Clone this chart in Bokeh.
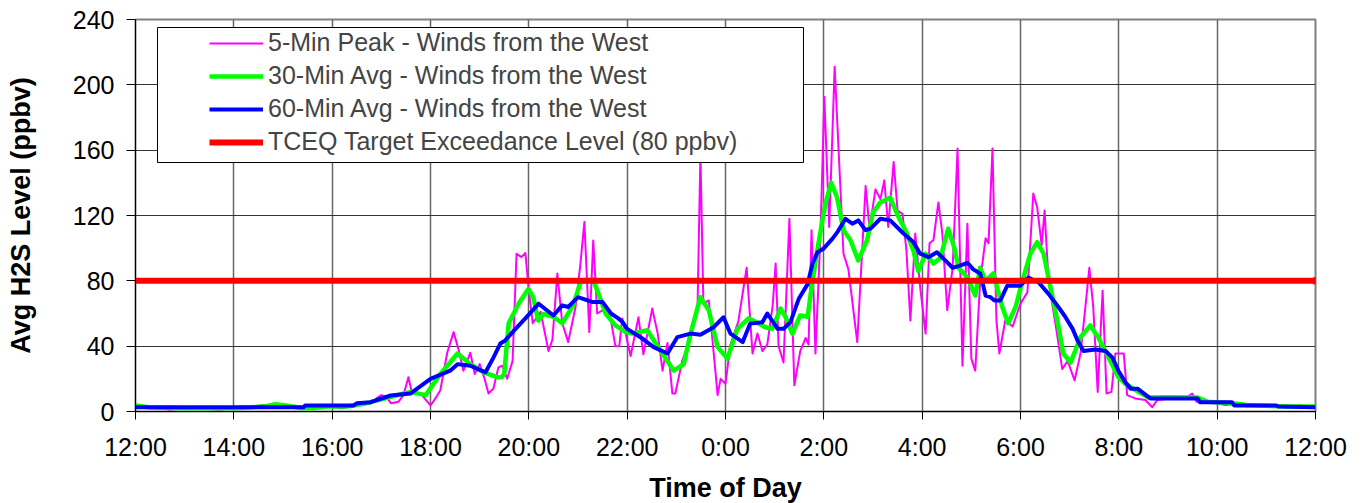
from bokeh.plotting import figure
from bokeh.models import (Range1d, FixedTicker, Legend, LegendItem, BoxAnnotation)
from bokeh.embed import file_html
from bokeh.resources import INLINE

# ---- data (time in hours after 12:00 noon) ----
tick_hours = [0, 2, 4, 6, 8, 10, 12, 14, 16, 18, 20, 22, 24]
tick_labels = ["12:00", "14:00", "16:00", "18:00", "20:00", "22:00", "0:00",
               "2:00", "4:00", "6:00", "8:00", "10:00", "12:00"]
y_ticks = [0, 40, 80, 120, 160, 200, 240]

peak_t = [0.0, 0.15, 0.3, 0.5, 0.7, 0.9, 1.2, 1.5, 1.7, 2.0, 2.3, 2.6, 2.8, 3.0, 3.2, 3.4,
          3.6, 3.9, 4.2, 4.4, 4.6, 4.8, 4.9, 5.0, 5.1, 5.2, 5.35, 5.45, 5.55, 5.62, 5.8, 6.0,
          6.1, 6.2, 6.34, 6.47, 6.57, 6.67, 6.81, 6.9, 7.0, 7.1, 7.18, 7.28, 7.38, 7.46,
          7.56, 7.67, 7.75, 7.85, 7.93, 8.0, 8.08, 8.24, 8.4, 8.48, 8.58, 8.68, 8.8, 8.95,
          9.05, 9.13, 9.23, 9.31, 9.39, 9.5, 9.66, 9.76, 9.84, 9.9, 10.07, 10.23, 10.33,
          10.51, 10.62, 10.72, 10.82, 10.92, 10.98, 11.12, 11.29, 11.43, 11.49, 11.55,
          11.66, 11.84, 11.9, 12.0, 12.1, 12.26, 12.43, 12.55, 12.65, 12.75, 12.85, 12.96,
          13.02, 13.08, 13.18, 13.3, 13.4, 13.52, 13.63, 13.69, 13.75, 13.83, 13.93, 14.01,
          14.11, 14.22, 14.34, 14.4, 14.5, 14.68, 14.85, 14.93, 15.05, 15.15, 15.23, 15.31,
          15.42, 15.5, 15.6, 15.68, 15.76, 15.86, 15.96, 16.07, 16.15, 16.23, 16.33, 16.41,
          16.51, 16.62, 16.72, 16.82, 16.92, 17.0, 17.08, 17.18, 17.29, 17.35, 17.43, 17.51,
          17.57, 17.69, 17.84, 18.0, 18.14, 18.26, 18.34, 18.43, 18.49, 18.57, 18.71, 18.85,
          18.96, 19.1, 19.22, 19.32, 19.4, 19.48, 19.57, 19.67, 19.75, 19.85, 19.93, 20.03,
          20.1, 20.17, 20.33, 20.54, 20.68, 20.78, 21.04, 21.35, 21.49, 21.58, 21.86, 22.17,
          22.47, 22.78, 23.08, 23.39, 23.69, 24.0]
peak_v = [3.5, 3.5, 2.5, 2, 1, 2, 2, 1.5, 1, 2, 2.5, 4, 3, 4, 2.5, 1.5,
          2, 3, 2, 3.5, 4, 5, 8, 10, 9, 5, 6, 10, 21, 12, 11, 3.7,
          8, 13, 36, 48.6, 38, 25, 36, 23, 29, 20, 11, 14, 27, 28,
          20, 31, 96.6, 94.5, 97, 74, 54, 61, 37, 44, 84.5, 54, 42.5, 64,
          90.6, 116, 48.6, 104.7, 60, 62, 57.7, 40, 40, 57, 34, 57.7, 35,
          63, 48, 25, 42, 11, 11, 31, 45, 62, 158, 66,
          68, 10, 20, 17, 41, 55, 88, 35.5, 47.7, 37, 41, 65,
          90.6, 40, 30, 118, 16, 37, 45, 41, 111, 35.5, 107, 192.5,
          113, 211, 135, 96.6, 87, 42.5, 138, 112, 136, 130, 141.5, 113,
          152.7, 123, 121, 98.6, 55.7, 109, 76, 47.7, 103, 105, 128, 109,
          62, 88, 161, 28, 115, 32.4, 25, 80, 106, 103, 161, 56,
          35.5, 55.7, 52, 66, 73, 133.5, 125, 102, 123, 80, 54, 26,
          31, 19, 35.5, 64, 88, 64, 12, 74, 11, 12, 35.5, 35.5,
          35.5, 10, 8, 7, 2.6, 7, 8, 8, 11, 6, 5.7, 4,
          5, 3.7, 4, 2.5, 3.7, 2.6]

avg30_t = [0.0, 0.3, 1.0, 2.0, 2.6, 2.85, 3.1, 3.4, 3.6, 3.9, 4.3, 4.5, 4.78, 5.2, 5.59,
           5.9, 6.2, 6.55, 6.81, 7.08, 7.36, 7.45, 7.5, 7.59, 7.79, 7.99, 8.09, 8.19, 8.3,
           8.5, 8.68, 8.9, 9.05, 9.3, 9.42, 9.56, 9.76, 9.97, 10.1, 10.41, 10.68, 10.95,
           11.15, 11.29, 11.49, 11.66, 11.84, 12.04, 12.24, 12.47, 12.61, 12.81, 12.95,
           13.12, 13.22, 13.36, 13.52, 13.67, 13.77, 13.89, 14.03, 14.15, 14.27, 14.4,
           14.54, 14.7, 14.88, 15.0, 15.15, 15.35, 15.49, 15.69, 15.82, 15.92, 16.07,
           16.23, 16.37, 16.53, 16.65, 16.74, 16.92, 17.08, 17.18, 17.29, 17.45, 17.63,
           17.75, 17.9, 18.04, 18.2, 18.34, 18.47, 18.61, 18.75, 18.87, 19.02, 19.22,
           19.42, 19.58, 19.79, 19.99, 20.13, 20.4, 20.6, 21.0, 21.6, 21.8, 22.3, 22.6,
           23.0, 23.5, 24.0]
avg30_v = [3.7, 2.5, 2, 2, 3, 4.5, 3.5, 2, 2, 3, 3, 4, 5.7, 9, 12,
           10, 23, 35.5, 29, 24, 21, 21, 23, 54, 66, 75, 70, 55.7, 59.7,
           58, 54, 65, 79, 81, 72, 60, 52.7, 48.6, 47.7, 49.7, 37, 25,
           29, 47.7, 70, 62, 39.4, 32.4, 50.6, 57, 55, 51.6, 50.6,
           63, 58, 47.7, 58.8, 58, 80, 103, 127, 140, 131, 111,
           105, 92.5, 105, 122, 128, 131, 121, 109, 98.6, 86, 96.6,
           90.6, 94, 112, 100.6, 88, 82, 71, 88, 80, 84.5, 64,
           54, 64, 80, 96.6, 103.7, 96.6, 76, 55.7, 35.5, 30, 45.5,
           52.7, 45.5, 33, 21, 17, 12, 8.5, 8.8, 8.5, 6, 5, 4,
           3.5, 3, 3]

avg60_t = [0.0, 3.42, 3.45, 4.43, 4.5, 4.78, 5.19, 5.59, 6.0, 6.4, 6.55, 6.81, 7.12, 7.28,
           7.42, 7.52, 7.73, 7.93, 8.2, 8.5, 8.68, 8.8, 9.0, 9.3, 9.5, 9.67, 9.82, 9.9,
           10.0, 10.27, 10.54, 10.82, 11.02, 11.29, 11.49, 11.76, 11.96, 12.1, 12.35,
           12.5, 12.75, 12.85, 13.06, 13.18, 13.32, 13.49, 13.67, 13.77, 13.87, 13.99,
           14.18, 14.28, 14.44, 14.58, 14.7, 14.85, 14.95, 15.15, 15.35, 15.62, 15.82,
           15.96, 16.13, 16.3, 16.47, 16.62, 16.74, 16.92, 17.04, 17.18, 17.29, 17.39,
           17.47, 17.59, 17.73, 18.0, 18.16, 18.37, 18.57, 18.77, 18.91, 19.06, 19.16,
           19.28, 19.52, 19.73, 19.87, 19.99, 20.13, 20.24, 20.38, 20.64, 21.6, 21.65,
           22.3, 22.35, 23.2, 23.25, 24.0]
avg60_v = [2.6, 2.6, 3.7, 3.7, 5, 5.7, 9.8, 11, 20, 25, 29, 28, 24, 33,
           41.6, 43.5, 50.6, 57, 66, 58.8, 65, 64, 70, 67, 67, 60, 57, 55,
           50.6, 45.5, 39.4, 35.5, 45.5, 47.7, 47, 51.6, 57.7, 47.7, 42.5,
           53.8, 54.7, 60, 50.6, 50.6, 54.7, 69, 78, 90.6, 97.5, 99.6,
           106, 110, 118, 115, 117, 111, 112, 118, 117, 109, 103.7,
           96.6, 94.5, 97.5, 92.5, 88, 89, 91, 87, 84.5, 71, 70,
           68, 68, 77, 77, 82, 79, 72, 64, 58, 50.6, 43.5,
           37, 38, 37, 33, 25, 18, 14, 14, 8, 8, 5.7,
           5.7, 3.7, 3.7, 3, 2.6]

target_t = [0.0, 24.0]
target_v = [80, 80]

series_labels = ["5-Min Peak - Winds from the West",
                 "30-Min Avg - Winds from the West",
                 "60-Min Avg - Winds from the West",
                 "TCEQ Target Exceedance Level (80 ppbv)"]

FONT = "Liberation Sans"

p = figure(frame_width=1180, frame_height=392, output_backend="svg", toolbar_location=None,
           x_range=Range1d(0, 24), y_range=Range1d(0, 240),
           min_border_left=135, min_border_top=19, min_border_right=40, min_border_bottom=90)
p.background_fill_color = "white"
p.border_fill_color = "white"
p.outline_line_color = "#808080"
p.outline_line_width = 2

r_peak = p.line(peak_t, peak_v, line_color="#FF00FF", line_width=2, line_join="round")
r_30 = p.line(avg30_t, avg30_v, line_color="#00FF00", line_width=4.5, line_join="round")
r_60 = p.line(avg60_t, avg60_v, line_color="#0000FF", line_width=4, line_join="round")
r_tg = p.line(target_t, target_v, line_color="#FF0000", line_width=6)
p.scatter(target_t[-1:], target_v[-1:], size=7, color="#FF0000")

xa = p.xaxis[0]
xa.ticker = FixedTicker(ticks=tick_hours)
xa.major_label_overrides = {h: s for h, s in zip(tick_hours, tick_labels)}
ya = p.yaxis[0]
ya.ticker = FixedTicker(ticks=y_ticks)
for ax in (xa, ya):
    ax.axis_line_color = "black"
    ax.axis_line_width = 1
    ax.major_tick_line_color = "black"
    ax.major_tick_in = 0
    ax.minor_tick_line_color = None
    ax.major_label_text_font = FONT
    ax.major_label_text_font_size = "25px"
    ax.major_label_text_color = "black"
    ax.axis_label_text_font = FONT
    ax.axis_label_text_font_size = "27px"
    ax.axis_label_text_font_style = "bold"
    ax.axis_label_text_color = "black"
xa.major_tick_out = 8
ya.major_tick_out = 9
xa.major_label_standoff = 13
ya.major_label_standoff = 12
xa.axis_label = "Time of Day"
ya.axis_label = "Avg H2S Level (ppbv)"
xa.axis_label_standoff = 9
ya.axis_label_standoff = 34

p.xgrid.ticker = FixedTicker(ticks=tick_hours)
p.ygrid.ticker = FixedTicker(ticks=y_ticks)
p.xgrid.grid_line_color = "#666666"
p.xgrid.grid_line_width = 1.5
p.ygrid.grid_line_color = "#333333"
p.ygrid.grid_line_width = 1

box = BoxAnnotation(left=22, right=668, bottom=249, top=384,
                    left_units="screen", right_units="screen",
                    bottom_units="screen", top_units="screen",
                    fill_color="white", fill_alpha=1.0,
                    line_color="black", line_width=1, line_alpha=1.0)
p.add_layout(box)

legend = Legend(items=[LegendItem(label=series_labels[0], renderers=[r_peak]),
                       LegendItem(label=series_labels[1], renderers=[r_30]),
                       LegendItem(label=series_labels[2], renderers=[r_60]),
                       LegendItem(label=series_labels[3], renderers=[r_tg])],
                location=(68, 249), padding=6, spacing=4, glyph_width=54,
                glyph_height=28, label_height=28, label_standoff=5,
                label_text_font=FONT, label_text_font_size="25px",
                border_line_alpha=0, background_fill_alpha=0)
p.add_layout(legend)

open("out.html", "w").write(file_html(p, INLINE))
